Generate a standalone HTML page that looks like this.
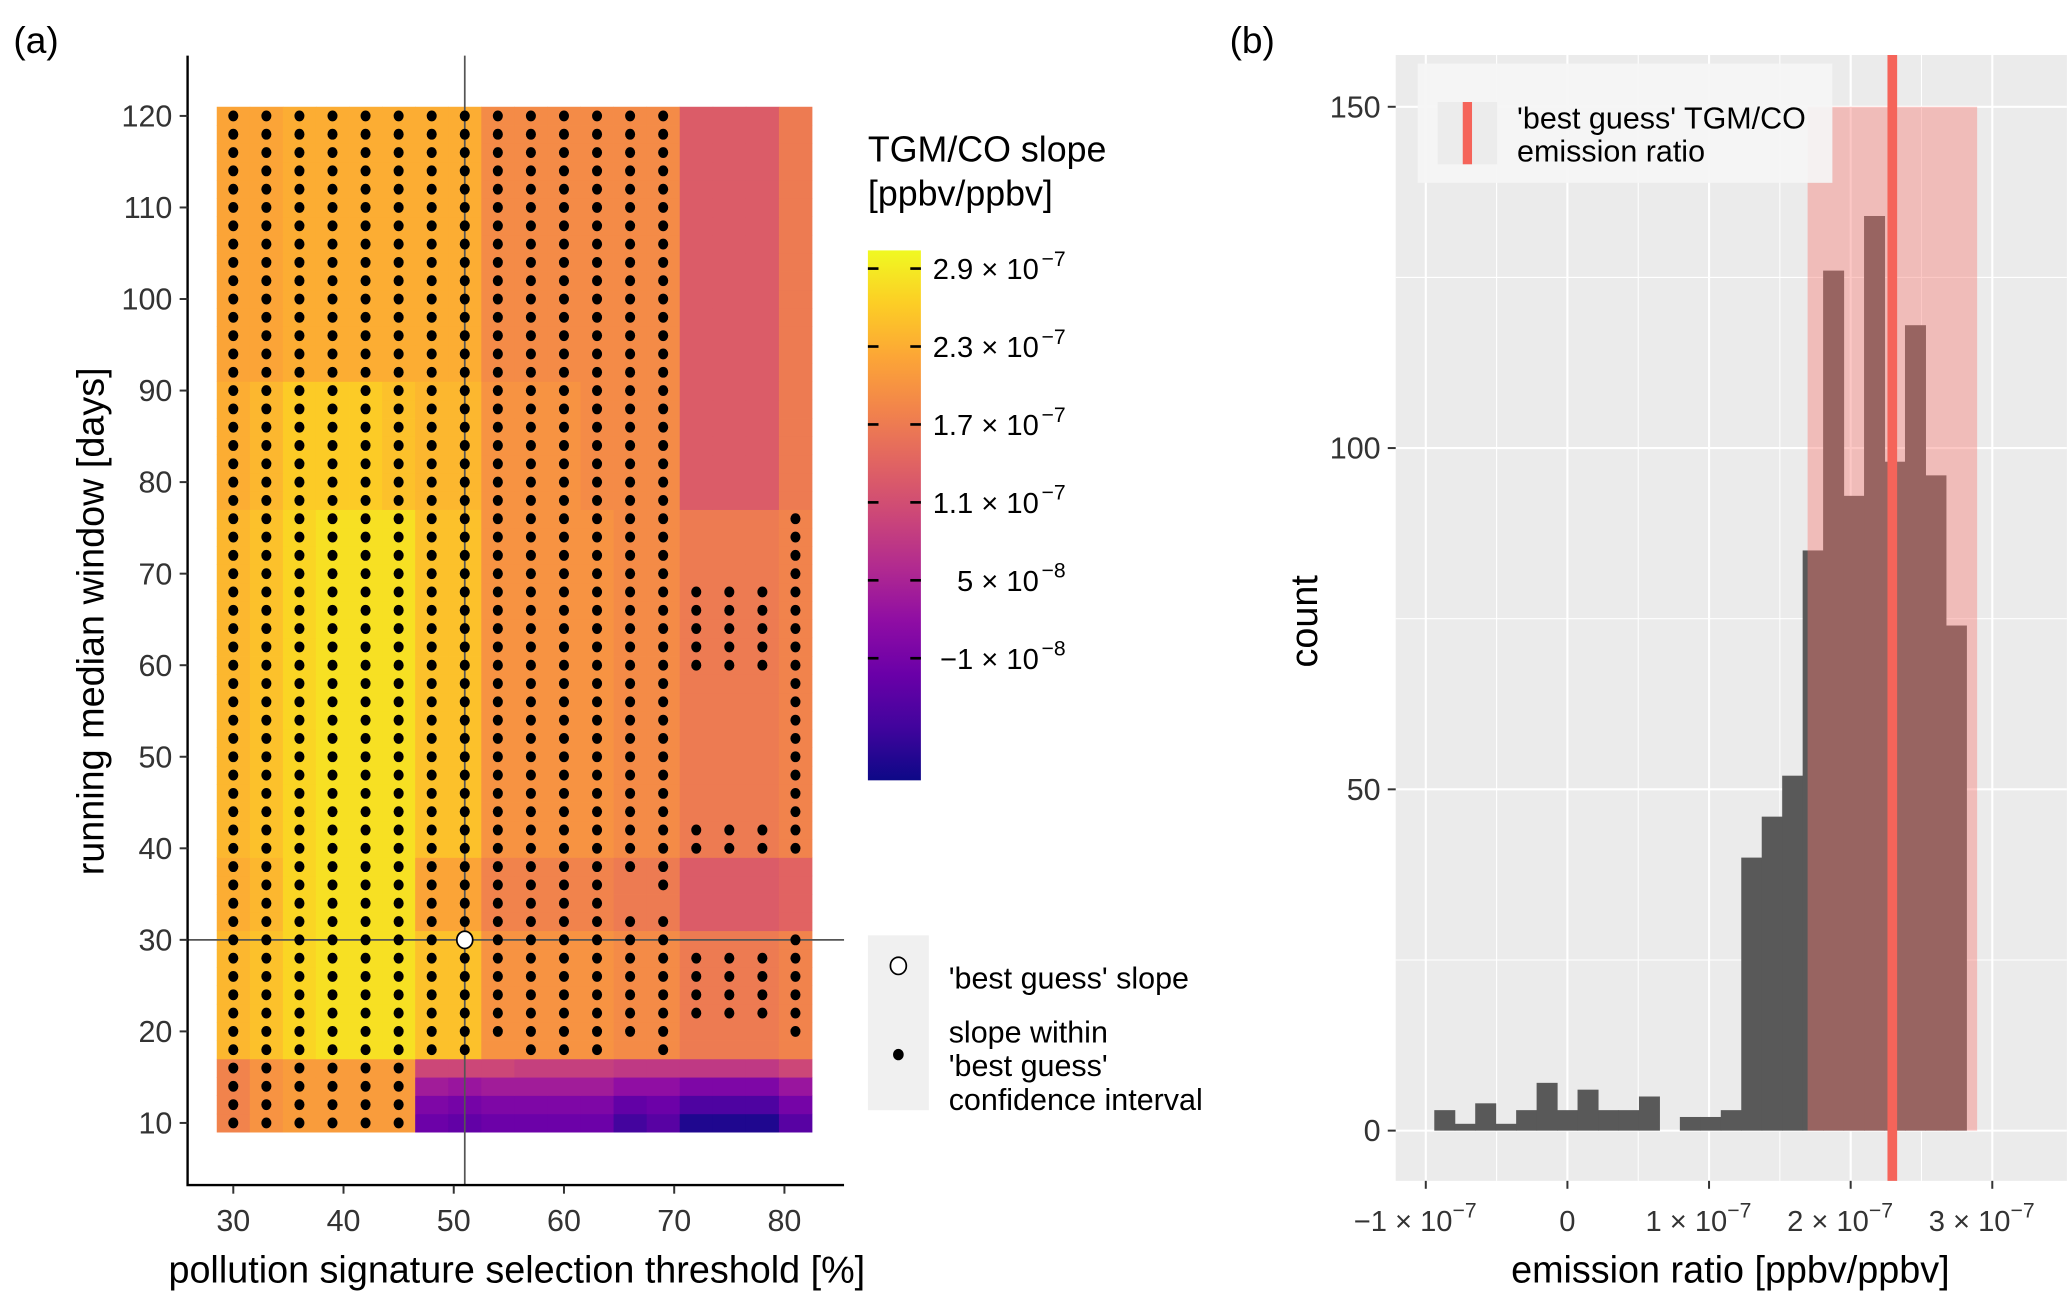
<!DOCTYPE html>
<html><head><meta charset="utf-8"><style>
html,body{margin:0;padding:0;background:#fff;}
svg{display:block;font-family:"Liberation Sans",Arial,sans-serif;}
</style></head><body>
<svg id="fig" width="2067" height="1301" viewBox="0 0 1560 982" xmlns="http://www.w3.org/2000/svg">
<defs>
<linearGradient id="plasma" x1="0" y1="1" x2="0" y2="0">
<stop offset="0" stop-color="#0d0887"/><stop offset="0.1" stop-color="#41049d"/><stop offset="0.2" stop-color="#6a00a8"/><stop offset="0.3" stop-color="#8f0da4"/><stop offset="0.4" stop-color="#b12a90"/><stop offset="0.5" stop-color="#cc4778"/><stop offset="0.6" stop-color="#e16462"/><stop offset="0.7" stop-color="#f2844b"/><stop offset="0.8" stop-color="#fca636"/><stop offset="0.9" stop-color="#fcce25"/><stop offset="1" stop-color="#f0f921"/>
</linearGradient>
</defs>
<g id="panelA"></g>
<g id="panelB"></g>
<text x="10" y="40" font-size="28" fill="#000">(a)</text>
<text x="928" y="40" font-size="28" fill="#000">(b)</text>
</svg>
<script>
// ---------- Panel (a) data ----------
const thresholds = [30,33,36,39,42,45,48,51,54,57,60,63,66,69,72,75,78,81];
const windows = [10,12,14,16,18,20,22,24,26,28,30,32,34,36,38,40,42,44,46,48,50,52,54,56,58,60,62,64,66,68,70,72,74,76,78,80,82,84,86,88,90,92,94,96,98,100,102,104,106,108,110,112,114,116,118,120];
// slope values in units of 1e-8
const slopeTopRows = [22,22,23,23,23,23,23,23,19,19,19,19,19,19,13,13,13,17];   // windows 92-120
const slopeUpRows  = [23,24,26,26,26,25,24,24,20,20,20,19,19,19,13,13,13,17];   // windows 78-90
const slopeMidRows = [24,25,27,28,28,28,25,25,20,20,20,20,19,19,17,17,17,18];   // windows 18-76
const slopeLowMid  = [23,24,27,28,28,28,22,22,18,18,18,18,17,17,13,13,13,14];   // windows 32-38
const slopeRow16 = [18,20,21,21,21,21,10,10,10,9,9,9,8,8,8,8,8,10];
const slopeRow14 = [18,20,21,21,21,21,4,3,4,4,4,4,2,2,0,0,0,3];
const slopeRow12 = [18,20,21,21,21,21,0,-1,0,0,0,0,-3,-2,-5,-5,-5,-1];
const slopeRow10 = [18,20,21,21,21,21,-2,-3,-2,-2,-2,-2,-6,-4,-9,-9,-9,-4];
const ciMask = {
 10:"111111000000000000",12:"111111000000000000",14:"111111000000000000",16:"111111000000000000",
 18:"111111110111010000",20:"111111111111110001",22:"111111111111111111",24:"111111111111111111",
 26:"111111111111111111",28:"111111111111111111",30:"111111101111110001",32:"111111111111110000",
 34:"111111111111000000",36:"111111111111010000",38:"111111111111110000",40:"111111111111111111",
 42:"111111111111111111",60:"111111111111111111",62:"111111111111111111",64:"111111111111111111",
 66:"111111111111111111",68:"111111111111111111"};
const bestGuess = [51,30];
const xTicksA = [30,40,50,60,70,80];
const yTicksA = [10,20,30,40,50,60,70,80,90,100,110,120];
const cbTickVals = [29,23,17,11,5,-1];
const cbTickMant = ["2.9","2.3","1.7","1.1","5","\u22121"];
const cbTickExp = ["\u22127","\u22127","\u22127","\u22127","\u22128","\u22128"];
const cbMin=-10.4, cbMax=30.4;

// ---------- Panel (b) data ----------
const binStart = -0.940, binWidth = 0.1445; // 1e-7 units
const counts = [3,1,4,1,3,7,3,6,3,3,5,0,2,2,3,40,46,52,85,126,93,134,98,118,96,74];
const ciLow = 1.696, ciHigh = 2.893, ciTop = 150;
const bestRatio = 2.294;
const xTicksB = [-1,0,1,2,3];
const yTicksB = [0,50,100,150];

const NS="http://www.w3.org/2000/svg";
function mk(tag, attrs, parent, text){const e=document.createElementNS(NS,tag);for(const k in attrs)e.setAttribute(k,attrs[k]);if(text!==undefined)e.textContent=text;parent.appendChild(e);return e;}

const pl=[[13,8,135],[65,4,157],[106,0,168],[143,13,164],[177,42,144],[204,71,120],[225,100,98],[242,132,75],[252,166,54],[252,206,37],[240,249,33]];
function plasma(t){t=Math.max(0,Math.min(1,t));const f=t*10,i=Math.min(9,Math.floor(f)),u=f-i;const a=pl[i],b=pl[i+1];return `rgb(${Math.round(a[0]+(b[0]-a[0])*u)},${Math.round(a[1]+(b[1]-a[1])*u)},${Math.round(a[2]+(b[2]-a[2])*u)})`;}
function slopeAt(r,c){const w=windows[r];
 if(w===10)return slopeRow10[c];if(w===12)return slopeRow12[c];if(w===14)return slopeRow14[c];if(w===16)return slopeRow16[c];
 if(w>=92)return slopeTopRows[c]; if(w>=78)return slopeUpRows[c]; if(w>=32&&w<=38)return slopeLowMid[c]; return slopeMidRows[c];}
function maskAt(w){ if(ciMask[w])return ciMask[w]; if(w>=44&&w<=58)return "111111111111110001"; if(w>=70&&w<=76)return "111111111111110001"; return "111111111111110000";}

// ---------- Panel (a) ----------
const A=document.getElementById('panelA');
const xA=v=>176+(v-30)*8.32;
const yA=v=>87.5+(120-v)*6.91;
const cells=mk('g',{},A);


windows.forEach((w,r)=>{thresholds.forEach((t,c)=>{
 const v=slopeAt(r,c);
 const rc=mk('rect',{x:xA(t-1.5),y:yA(w+1),width:8.32*3+0.3,height:6.91*2+0.3,fill:plasma((v-cbMin)/(cbMax-cbMin))},cells);
 
 
});});
const vl=mk('line',{x1:xA(bestGuess[0]),x2:xA(bestGuess[0]),y1:42,y2:894,stroke:'#555','stroke-width':1.3},A);


const hl=mk('line',{x1:141.5,x2:637,y1:yA(bestGuess[1]),y2:yA(bestGuess[1]),stroke:'#555','stroke-width':1.3},A);


const dots=mk('g',{},A);


windows.forEach(w=>{const m=maskAt(w);thresholds.forEach((t,c)=>{ if(m[c]==='1'){
 const d=mk('ellipse',{cx:xA(t),cy:yA(w),rx:3.8,ry:4.1,fill:'#000'},dots);
 
 }});});
const bg=mk('ellipse',{cx:xA(bestGuess[0]),cy:yA(bestGuess[1]),rx:6,ry:6.5,fill:'#fff',stroke:'#000','stroke-width':1.3},A);


const axA=mk('path',{d:'M141.5,42 V894.5 H637',fill:'none',stroke:'#000','stroke-width':1.8},A);


xTicksA.forEach(t=>{mk('line',{x1:xA(t),x2:xA(t),y1:895,y2:901,stroke:'#333','stroke-width':1.5},A);
 const l=mk('text',{x:xA(t),y:929,'font-size':23,fill:'#333','text-anchor':'middle'},A,String(t));
 
 });
yTicksA.forEach(t=>{mk('line',{x1:135.5,x2:141.5,y1:yA(t),y2:yA(t),stroke:'#333','stroke-width':1.5},A);
 const l=mk('text',{x:130,y:yA(t)+8,'font-size':23,fill:'#333','text-anchor':'end'},A,String(t));
 
 });
const xt=mk('text',{x:390,y:968,'font-size':28.5,'text-anchor':'middle',fill:'#000'},A,'pollution signature selection threshold [%]');


const yt=mk('text',{x:0,y:0,'font-size':28.5,'text-anchor':'middle',fill:'#000',transform:'translate(78,469) rotate(-90)'},A,'running median window [days]');


const cbt=mk('text',{x:655,y:122,'font-size':27,fill:'#000'},A,'TGM/CO slope');


mk('text',{x:655,y:155,'font-size':27,fill:'#000'},A,'[ppbv/ppbv]');
const cb=mk('rect',{x:655,y:189,width:40,height:400,fill:'url(#plasma)'},A);


const yCB=v=>589-(v-cbMin)/(cbMax-cbMin)*400;
cbTickVals.forEach((v,i)=>{const y=yCB(v);
 mk('line',{x1:655,x2:663,y1:y,y2:y,stroke:'#000','stroke-width':2},A);
 mk('line',{x1:687,x2:695,y1:y,y2:y,stroke:'#000','stroke-width':2},A);
 const t=mk('text',{x:784,y:y+8,'font-size':22,fill:'#000','text-anchor':'end'},A);
 
 
 t.textContent=cbTickMant[i]+' \u00d7 10';
 mk('tspan',{x:786,dy:-10,'font-size':16,'text-anchor':'start'},t,cbTickExp[i]);
});
const pl1=mk('rect',{x:655,y:706,width:46,height:132,fill:'#f0f0f0'},A);


mk('ellipse',{cx:678,cy:729,rx:6,ry:6.5,fill:'#fff',stroke:'#000','stroke-width':1.3},A);
mk('ellipse',{cx:678,cy:796,rx:4,ry:4.3,fill:'#000'},A);
[['\u0027best guess\u0027 slope',746],['slope within',787],['\u0027best guess\u0027',812],['confidence interval',838]].forEach(([s,y])=>{
 const t=mk('text',{x:716,y:y,'font-size':23,fill:'#000'},A,s);
 
 });

// ---------- Panel (b) ----------
const B=document.getElementById('panelB');
const xB=v=>1183+v*106.9;
const yB=v=>853.4-v*(257.6/50);
const pbg=mk('rect',{x:1053.4,y:41.5,width:506.6,height:849.8,fill:'#ebebeb'},B);


[-0.5,0.5,1.5,2.5].forEach(v=>mk('line',{x1:xB(v),x2:xB(v),y1:41.5,y2:891.3,stroke:'#fff','stroke-width':0.8},B));
[25,75,125].forEach(v=>mk('line',{x1:1053.4,x2:1560,y1:yB(v),y2:yB(v),stroke:'#fff','stroke-width':0.8},B));
xTicksB.forEach(v=>mk('line',{x1:xB(v),x2:xB(v),y1:41.5,y2:891.3,stroke:'#fff','stroke-width':1.6},B));
yTicksB.forEach(v=>mk('line',{x1:1053.4,x2:1560,y1:yB(v),y2:yB(v),stroke:'#fff','stroke-width':1.6},B));
const bars=mk('g',{},B);


counts.forEach((c,i)=>{ if(c<=0)return; const x0=binStart+i*binWidth;
 const r=mk('rect',{x:xB(x0),y:yB(c),width:binWidth*106.9+0.4,height:yB(0)-yB(c),fill:'#595959'},bars);
 
 });
const ci=mk('rect',{x:xB(ciLow),y:yB(ciTop),width:xB(ciHigh)-xB(ciLow),height:yB(0)-yB(ciTop),fill:'#f8766d','fill-opacity':0.4},B);


const bl=mk('line',{x1:xB(bestRatio),x2:xB(bestRatio),y1:41.5,y2:891.3,stroke:'#f5645a','stroke-width':7.3},B);


const yTickLab=['0','50','100','150'];
yTicksB.forEach((v,i)=>{mk('line',{x1:1047.4,x2:1053.4,y1:yB(v),y2:yB(v),stroke:'#333','stroke-width':1.5},B);
 const t=mk('text',{x:1042,y:yB(v)+8,'font-size':23,fill:'#333','text-anchor':'end'},B,yTickLab[i]);
 
 });
const xTickMant=['\u22121 \u00d7 10','0','1 \u00d7 10','2 \u00d7 10','3 \u00d7 10'];
xTicksB.forEach((v,i)=>{mk('line',{x1:xB(v),x2:xB(v),y1:891.3,y2:897.3,stroke:'#333','stroke-width':1.5},B);
 const t=mk('text',{x:xB(v)+(v===0?0:-8),y:929,'font-size':22,fill:'#333','text-anchor':'middle'},B,xTickMant[i]);
 
 
 if(v!==0){mk('tspan',{dy:-10,'font-size':16},t,'\u22127');}});
const bxt=mk('text',{x:1306,y:968,'font-size':28.5,'text-anchor':'middle',fill:'#000'},B,'emission ratio [ppbv/ppbv]');


const byt=mk('text',{x:0,y:0,'font-size':28.5,'text-anchor':'middle',fill:'#000',transform:'translate(994,469) rotate(-90)'},B,'count');


const lg=mk('rect',{x:1070,y:48,width:313,height:90,fill:'#f5f5f5','fill-opacity':0.92},B);


mk('rect',{x:1085,y:77,width:45,height:47,fill:'#ececec'},B);
mk('rect',{x:1104,y:77,width:7,height:47,fill:'#f5645a'},B);
const l1=mk('text',{x:1145,y:97,'font-size':23,fill:'#000'},B,'\u0027best guess\u0027 TGM/CO');


mk('text',{x:1145,y:122,'font-size':23,fill:'#000'},B,'emission ratio');
</script>
</body></html>
